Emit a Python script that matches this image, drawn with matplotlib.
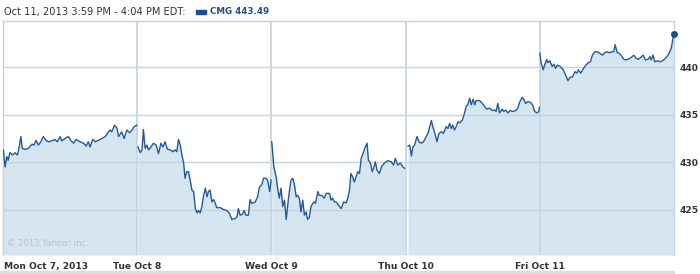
import matplotlib.pyplot as plt
from matplotlib.patches import Rectangle

# minutes since the 9:30 open, and price, one pair of lists per trading day
mon_min = [1, 6, 11, 15, 20, 28, 35, 42, 47, 52, 56, 64, 74, 84, 90, 96, 103, 110, 117, 125,
           132, 142, 151, 158, 166, 171, 180, 190, 197, 205, 212, 224, 234, 242, 248, 253, 261,
           268, 277, 287, 297, 304, 311, 316, 324, 331, 336, 345, 352, 360, 368, 375, 381, 389]
mon_px = [431.3, 429.5, 430.6, 430.2, 431.0, 430.75, 431.0, 430.75, 431.6, 432.7, 431.45, 431.35,
          431.45, 431.9, 431.8, 432.3, 431.8, 432.15, 432.7, 432.3, 432.15, 432.25, 432.4, 432.15,
          432.7, 432.25, 432.5, 432.7, 432.3, 432.0, 432.4, 432.15, 432.0, 431.7, 432.15, 431.6,
          432.4, 432.15, 432.3, 432.5, 432.7, 433.05, 433.4, 433.2, 433.9, 433.6, 432.7, 433.2,
          432.5, 433.4, 433.1, 433.4, 433.75, 433.9]

tue_min = [2, 9, 14, 18, 23, 28, 33, 40, 47, 55, 62, 69, 75, 81, 88, 96, 104, 110, 115, 120,
           125, 130, 135, 139, 144, 149, 154, 159, 164, 169, 174, 178, 183, 188, 193, 198, 203,
           207, 212, 217, 222, 227, 231, 241, 251, 260, 268, 275, 285, 290, 294, 299, 306, 311,
           316, 323, 328, 333, 343, 350, 355, 362, 367, 374, 379, 385, 389]
tue_px = [431.6, 431.0, 431.3, 433.45, 431.45, 431.8, 431.3, 431.6, 432.0, 431.8, 430.9, 432.0,
          431.6, 432.15, 431.35, 431.3, 431.1, 431.3, 431.1, 432.4, 431.8, 430.75, 429.9, 428.3,
          429.0, 429.0, 428.1, 427.05, 426.9, 425.1, 424.65, 424.9, 424.65, 425.3, 426.5, 427.25,
          426.35, 426.9, 427.05, 425.8, 426.05, 425.65, 425.2, 425.2, 425.0, 424.9, 424.6, 423.95,
          424.05, 424.2, 425.1, 424.4, 424.5, 424.9, 424.4, 424.4, 426.05, 425.65, 425.8, 426.35,
          427.35, 427.6, 428.3, 428.3, 428.1, 426.9, 428.1]

wed_min = [1, 7, 14, 18, 23, 28, 33, 38, 43, 47, 52, 57, 62, 67, 72, 76, 81, 86, 91, 96, 101,
           105, 110, 115, 123, 128, 135, 139, 146, 154, 159, 169, 173, 178, 183, 188, 193, 203,
           210, 217, 222, 227, 231, 236, 241, 246, 251, 256, 261, 268, 273, 278, 282, 288, 293,
           297, 302, 307, 314, 320, 328, 338, 348, 355, 360, 367, 375, 382, 387]
wed_px = [432.15, 429.5, 428.45, 427.25, 426.2, 427.25, 425.3, 426.0, 423.95, 425.3, 426.9,
          428.1, 428.3, 427.6, 426.35, 426.5, 426.2, 424.75, 426.0, 424.4, 424.75, 423.95, 424.15,
          425.3, 425.8, 425.65, 426.9, 426.5, 426.5, 426.2, 426.7, 426.7, 426.0, 426.2, 425.8,
          425.8, 425.55, 425.1, 425.8, 425.7, 426.2, 427.05, 428.8, 428.45, 427.9, 428.45, 429.0,
          428.8, 430.4, 431.1, 431.6, 432.0, 430.2, 429.9, 429.0, 429.35, 430.05, 429.15, 428.8,
          429.5, 429.9, 430.15, 430.05, 429.7, 430.4, 429.7, 429.9, 429.5, 429.35]

thu_min = [7, 12, 17, 21, 26, 33, 39, 46, 52, 60, 65, 75, 79, 84, 91, 97, 104, 110, 118, 123,
           128, 133, 137, 142, 147, 152, 157, 165, 171, 176, 181, 186, 191, 196, 201, 205, 215,
           223, 230, 236, 244, 252, 259, 263, 268, 273, 281, 285, 291, 297, 304, 312, 320, 326,
           331, 339, 343, 349, 356, 363, 369, 375, 382, 387, 389]
thu_px = [431.7, 431.8, 430.65, 431.6, 431.8, 432.7, 432.15, 432.0, 432.15, 432.7, 433.05, 434.4,
          433.75, 433.2, 432.15, 433.05, 433.2, 433.05, 433.75, 433.55, 434.1, 433.55, 433.9,
          433.4, 433.75, 434.25, 434.15, 434.45, 435.15, 435.9, 436.05, 436.75, 436.05, 436.65,
          436.05, 436.5, 436.5, 436.2, 435.85, 435.6, 435.7, 435.45, 435.5, 435.35, 436.2, 435.2,
          435.6, 435.35, 435.5, 435.2, 435.45, 435.35, 435.45, 435.7, 436.3, 436.85, 436.65,
          436.2, 436.4, 436.3, 436.05, 435.35, 435.2, 435.35, 435.8]

fri_min = [0, 4, 10, 14, 20, 23, 29, 36, 41, 46, 51, 59, 68, 75, 82, 88, 95, 102, 108, 112,
           119, 127, 134, 141, 147, 153, 160, 168, 176, 183, 188, 195, 202, 209, 215, 219, 225,
           231, 238, 244, 251, 256, 266, 273, 280, 287, 293, 300, 307, 315, 320, 324, 329, 334,
           342, 349, 357, 365, 373, 382, 389]
fri_px = [441.5, 440.45, 439.75, 440.25, 440.85, 440.5, 440.7, 440.1, 440.35, 439.9, 440.25,
          440.1, 439.75, 439.2, 438.6, 438.95, 439.0, 439.55, 439.4, 439.75, 439.4, 439.9, 440.25,
          440.5, 440.6, 441.3, 441.65, 441.65, 441.45, 441.3, 441.55, 441.65, 441.55, 441.65,
          441.65, 442.4, 441.55, 441.5, 441.2, 440.85, 440.8, 440.85, 441.05, 441.3, 440.95,
          440.85, 441.05, 441.3, 440.8, 440.85, 441.15, 440.8, 441.3, 440.6, 440.7, 440.6, 440.7,
          440.95, 441.3, 442.0, 443.49]

days = [(mon_min, mon_px), (tue_min, tue_px), (wed_min, wed_px), (thu_min, thu_px), (fri_min, fri_px)]
day_labels = ["Mon Oct 7, 2013", "Tue Oct 8", "Wed Oct 9", "Thu Oct 10", "Fri Oct 11"]
price_ticks = [425, 430, 435, 440]
day_len = 390
last_price = 443.49

line_col = "#24599a"
fill_col = "#d6e6f1"
grid_col = "#c5d3de"
text_col = "#333333"
blue = "#1f4e8c"

fig = plt.figure(figsize=(7, 2.74), dpi=100)
ax = fig.add_axes([3 / 700, 19 / 274, 671 / 700, 234 / 274])

ymin = 420.2
for i, (mins, px) in enumerate(days):
    x = [i * day_len + m for m in mins]
    ax.fill_between(x, px, ymin, color=fill_col, lw=0, zorder=1)
    ax.plot(x, px, color=line_col, lw=1.0, zorder=3)

ax.plot([4 * day_len + fri_min[-1]], [last_price], "o", color="#1b4f8a", ms=4, zorder=4,
        clip_on=False)

ax.set_xlim(0, 5 * day_len)
ax.set_ylim(ymin, 444.9)

for p in price_ticks:
    ax.axhline(p, color=grid_col, lw=1, zorder=2)
for i in range(1, 5):
    ax.axvline(i * day_len, color=grid_col, lw=1.2, zorder=2)

for s in ax.spines.values():
    s.set_color(grid_col)
    s.set_linewidth(1)
ax.spines["bottom"].set_visible(False)

ax.set_xticks([])
ax.yaxis.tick_right()
ax.set_yticks(price_ticks)
ax.set_yticklabels([str(p) for p in price_ticks], fontsize=6.6, fontweight="bold", color=text_col)
ax.tick_params(axis="y", length=0, pad=4)

# day labels under the plot
for i, lab in enumerate(day_labels):
    if i == 0:
        ax.text(0.002, -0.03, lab, transform=ax.transAxes, ha="left", va="top",
                fontsize=6.6, fontweight="bold", color=text_col)
    else:
        ax.text(i * day_len, -0.03, lab, transform=ax.get_xaxis_transform(), ha="center",
                va="top", fontsize=6.6, fontweight="bold", color=text_col)

ax.text(0.006, 0.03, "\u00a9 2013 Yahoo! Inc.", transform=ax.transAxes, fontsize=6.1,
        color="#b3c4d1", ha="left", va="bottom")

# header
fig.text(4 / 700, 1 - 12 / 274, "Oct 11, 2013 3:59 PM - 4:04 PM EDT:", fontsize=7.1,
         color=text_col, va="center", ha="left")
fig.patches.append(Rectangle((196 / 700, 1 - 14 / 274), 10 / 700, 4 / 274,
                             transform=fig.transFigure, color=blue))
fig.text(210 / 700, 1 - 12 / 274, "CMG 443.49", fontsize=6.3, fontweight="bold",
         color=blue, va="center", ha="left")

# grey strip along the bottom edge
fig.patches.append(Rectangle((0, 0), 674 / 700, 3 / 274, transform=fig.transFigure,
                             color="#dddddd"))

fig.savefig("out.png", dpi=100)
